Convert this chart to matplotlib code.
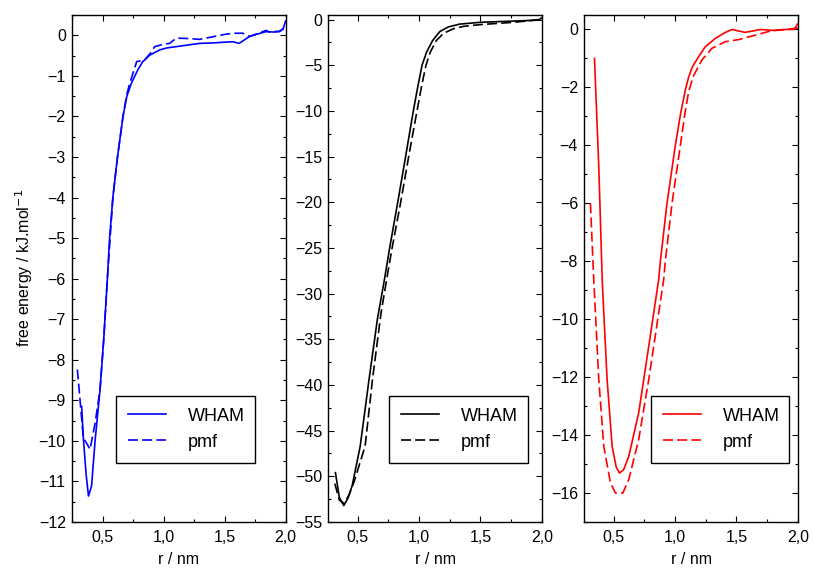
import matplotlib
matplotlib.use("Agg")
import matplotlib.pyplot as plt
from matplotlib.ticker import MultipleLocator, FuncFormatter

plt.rcParams['font.family'] = ['Liberation Sans', 'DejaVu Sans']

# panel 1 (blue)
r_wham1 = [0.329, 0.343, 0.365, 0.385, 0.41, 0.44, 0.48, 0.51, 0.54, 0.558, 0.585, 0.623,
           0.668, 0.70, 0.737, 0.79, 0.83, 0.887, 0.97, 1.03, 1.105, 1.2, 1.296, 1.4,
           1.5, 1.57, 1.62, 1.66, 1.705, 1.77, 1.84, 1.9, 1.95, 1.98, 2.0]
g_wham1 = [-9.15, -9.93, -10.8, -11.36, -11.12, -9.97, -8.73, -7.5, -6.0, -5.0, -4.0, -3.0,
           -2.0, -1.5, -1.18, -0.85, -0.65, -0.49, -0.36, -0.31, -0.28, -0.24, -0.2, -0.19,
           -0.17, -0.16, -0.2, -0.12, -0.03, 0.03, 0.09, 0.08, 0.09, 0.15, 0.35]
r_pmf1 = [0.294, 0.343, 0.376, 0.398, 0.44, 0.48, 0.51, 0.54, 0.585, 0.623, 0.668, 0.70,
          0.72, 0.78, 0.846, 0.89, 0.928, 1.0, 1.05, 1.105, 1.2, 1.296, 1.4, 1.5, 1.57,
          1.65, 1.705, 1.78, 1.84, 1.87, 1.95, 2.0]
g_pmf1 = [-8.24, -9.93, -10.09, -10.21, -9.55, -8.73, -7.5, -6.0, -4.0, -3.0, -2.0, -1.45,
          -1.22, -0.65, -0.61, -0.45, -0.28, -0.22, -0.2, -0.07, -0.08, -0.1, -0.04, 0.02,
          0.05, 0.05, -0.03, 0.05, 0.12, 0.08, 0.1, 0.2]

# panel 2 (black)
r_wham2 = [0.318, 0.35, 0.386, 0.42, 0.455, 0.52, 0.59, 0.66, 0.717, 0.76, 0.826, 0.89,
           0.953, 0.99, 1.024, 1.06, 1.11, 1.17, 1.24, 1.33, 1.5, 1.7, 1.9, 1.98, 2.0]
g_wham2 = [-49.6, -52.3, -53.2, -52.4, -51.0, -46.7, -39.6, -32.8, -28.5, -25.0, -20.0, -15.0,
           -10.0, -7.3, -5.0, -3.6, -2.3, -1.3, -0.8, -0.5, -0.3, -0.2, -0.1, 0.0, 0.2]
r_pmf2 = [0.313, 0.35, 0.39, 0.43, 0.47, 0.56, 0.62, 0.69, 0.735, 0.78, 0.85, 0.915, 0.983,
          1.02, 1.056, 1.09, 1.14, 1.2, 1.28, 1.36, 1.5, 1.77, 2.0]
g_pmf2 = [-50.8, -52.6, -53.0, -52.0, -50.6, -46.7, -39.4, -32.1, -28.5, -25.0, -20.0, -15.0,
          -10.0, -7.3, -5.0, -3.6, -2.3, -1.5, -1.0, -0.75, -0.55, -0.3, 0.0]

# panel 3 (red)
r_wham3 = [0.343, 0.378, 0.406, 0.419, 0.446, 0.487, 0.52, 0.546, 0.58, 0.622, 0.703, 0.785,
           0.866, 0.88, 0.934, 1.002, 1.045, 1.083, 1.11, 1.14, 1.19, 1.245, 1.33, 1.41,
           1.465, 1.57, 1.70, 1.8, 1.9, 1.97, 2.0]
g_wham3 = [-1.0, -4.74, -8.64, -9.79, -12.09, -14.39, -15.1, -15.31, -15.2, -14.74, -13.24,
           -10.94, -8.64, -8.0, -6.0, -4.0, -2.9, -2.1, -1.65, -1.3, -0.95, -0.6, -0.3, -0.1,
           0.0, -0.1, 0.0, -0.03, 0.0, 0.0, 0.2]
r_pmf3 = [0.31, 0.337, 0.351, 0.378, 0.419, 0.473, 0.514, 0.574, 0.622, 0.703, 0.785, 0.866,
          0.907, 0.92, 0.975, 1.043, 1.08, 1.11, 1.15, 1.219, 1.30, 1.41, 1.517, 1.65, 1.78,
          1.9, 2.0]
g_pmf3 = [-6.0, -8.64, -9.79, -12.09, -14.39, -15.65, -16.0, -16.0, -15.54, -14.16, -12.09,
          -9.79, -8.64, -8.0, -6.0, -4.0, -2.9, -2.15, -1.6, -1.05, -0.65, -0.42, -0.35, -0.2,
          -0.05, 0.0, 0.05]

panels = [
    (r_wham1, g_wham1, r_pmf1, g_pmf1, '#0000ff', (0.25, 2.0), (-12, 0.5), 1, 0.5, 0.207),
    (r_wham2, g_wham2, r_pmf2, g_pmf2, 'black', (0.26, 2.0), (-55, 0.5), 5, 2.5, 0.286),
    (r_wham3, g_wham3, r_pmf3, g_pmf3, '#ff0000', (0.26, 2.0), (-17, 0.5), 2, 1, 0.313),
]

fig = plt.figure(figsize=(8.13, 5.68), dpi=100)
lefts = [72 / 813, 328.3 / 813, 584.3 / 813]
comma = FuncFormatter(lambda v, p: ('%.1f' % v).replace('.', ','))

for i, (rw, gw, rp, gp, col, xl, yl, ymaj, ymin, legx) in enumerate(panels):
    ax = fig.add_axes([lefts[i], 0.081, 213.5 / 813, 0.8926])
    ax.plot(rw, gw, color=col, lw=1.2, label='WHAM')
    ax.plot(rp, gp, color=col, lw=1.2, dashes=(6, 2.5), label='pmf')
    ax.set_xlim(*xl)
    ax.set_ylim(*yl)
    ax.xaxis.set_major_locator(MultipleLocator(0.5))
    ax.xaxis.set_minor_locator(MultipleLocator(0.25))
    ax.xaxis.set_major_formatter(comma)
    ax.yaxis.set_major_locator(MultipleLocator(ymaj))
    ax.yaxis.set_minor_locator(MultipleLocator(ymin))
    ax.tick_params(which='both', direction='in', top=True, right=True, labelsize=11.5)
    ax.tick_params(which='major', length=4.5, width=0.8, pad=4.5)
    ax.tick_params(axis='x', which='major', pad=6)
    ax.tick_params(which='minor', length=2.5, width=0.8)
    for s in ax.spines.values():
        s.set_linewidth(1.0)
    ax.set_xlabel('r / nm', fontsize=11.5, labelpad=5)
    leg = ax.legend(loc='upper left', bbox_to_anchor=(legx, 0.1144, 0.648, 0.1341),
                    mode='expand', borderaxespad=0, fontsize=13, fancybox=False,
                    edgecolor='black', framealpha=1, borderpad=0.65, handlelength=2.1,
                    handletextpad=1.2, labelspacing=0.5)
    leg.get_frame().set_linewidth(1.0)
    if i == 0:
        ax.set_ylabel('free energy / kJ.mol$^{-1}$', fontsize=11.5)
        ax.yaxis.set_label_coords(-0.175, 0.5)

fig.savefig('out.png', dpi=100)
